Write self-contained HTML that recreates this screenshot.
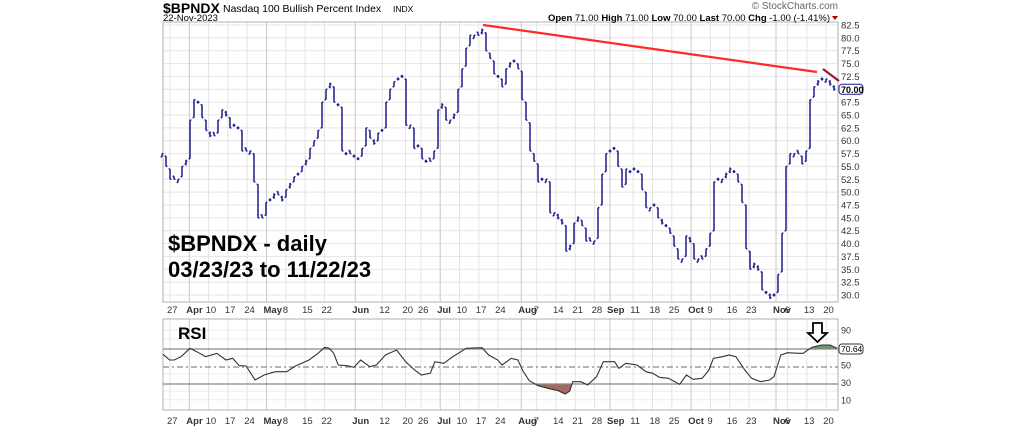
<!DOCTYPE html>
<html><head><meta charset="utf-8">
<style>
html,body{margin:0;padding:0;background:#fff;}
svg{display:block;font-family:"Liberation Sans",Arial,sans-serif;}
</style></head>
<body>
<svg id="s" width="1023" height="428" viewBox="0 0 1023 428" xmlns="http://www.w3.org/2000/svg">
<defs>
<clipPath id="above"><rect x="163" y="319" width="675" height="30"/></clipPath>
<clipPath id="below"><rect x="163" y="384" width="675" height="26"/></clipPath>
</defs>
<rect width="1023" height="428" fill="#fff"/>
<g id="grid"></g>
<rect x="163" y="22" width="675" height="280" fill="none" stroke="#b0b0b0" stroke-width="1"/>
<rect x="163" y="319" width="675" height="91" fill="none" stroke="#b0b0b0" stroke-width="1"/>
<text x="163" y="13" font-size="14" font-weight="bold">$BPNDX</text>
<text x="223" y="12" font-size="10.5">Nasdaq 100 Bullish Percent Index</text>
<text x="393" y="12" font-size="8.5">INDX</text>
<text x="163" y="21" font-size="9.5">22-Nov-2023</text>
<text x="838" y="9" font-size="10" text-anchor="end" fill="#666">© StockCharts.com</text>
<text x="830" y="21" font-size="9.5" text-anchor="end"><tspan font-weight="bold">Open</tspan> 71.00 <tspan font-weight="bold">High</tspan> 71.00 <tspan font-weight="bold">Low</tspan> 70.00 <tspan font-weight="bold">Last</tspan> 70.00 <tspan font-weight="bold">Chg</tspan> -1.00 (-1.41%)</text>
<path d="M832,16 l6,0 l-3,4z" fill="#a00"/>
<g id="bars" stroke="#1c1c8c" stroke-width="1.5" fill="none"></g>
<line x1="483" y1="25" x2="817" y2="72" stroke="#ff2a2a" stroke-width="2.2"/>
<line x1="823" y1="69" x2="839" y2="81" stroke="#a01828" stroke-width="2.2"/>
<g id="rsi"></g>
<text x="168" y="251" font-size="22" font-weight="bold">$BPNDX - daily</text>
<text x="168" y="277" font-size="22" font-weight="bold">03/23/23 to 11/22/23</text>
<text x="178" y="339" font-size="17" font-weight="bold">RSI</text>
<path d="M813,323 h9 v10 h5 l-9.5,9 l-9.5,-9 h5z" fill="#fff" stroke="#000" stroke-width="1.8"/>
</svg>
<script>
var NS="http://www.w3.org/2000/svg";
function el(p,t,a,txt){var e=document.createElementNS(NS,t);for(var k in a)e.setAttribute(k,a[k]);if(txt!==undefined)e.textContent=txt;p.appendChild(e);return e;}
var g=document.getElementById('grid');
function Y(v){return 25+(82.5-v)*5.143;}
for(var v=30;v<=82.5;v+=2.5){var y=Y(v);el(g,'line',{x1:163,x2:838,y1:y,y2:y,stroke:'#e4e4e4','stroke-width':1});
el(g,'text',{x:841,y:y+3.5,'font-size':9.5,fill:'#333'},v.toFixed(1));}
function RY(r){return 410-r*0.87-1.5;}
[10,20,40,60,80,90].forEach(function(r){var y=RY(r);el(g,'line',{x1:163,x2:838,y1:y,y2:y,stroke:'#ececec'});});
[[90,'90'],[50,'50'],[30,'30'],[10,'10']].forEach(function(a){el(g,'text',{x:841,y:RY(a[0])+3.5,'font-size':9,fill:'#333'},a[1]);});
var labs=[[0,0,'27',0],[1,0,'Apr',1],[2,0,'10',0],[3,0,'17',0],[4,0,'24',0],[5,0,'May',1],[6,0,'8',0],[7,0,'15',0],[8,0,'22',0],[9,3,'Jun',1],[11,0,'12',0],[12,1,'20',0],[13,0,'26',0],[14,0,'Jul',1],[15,0,'10',0],[16,0,'17',0],[17,0,'24',0],[18,1,'Aug',1],[19,0,'7',0],[20,0,'14',0],[21,0,'21',0],[22,0,'28',0],[22,4,'Sep',1],[24,0,'11',0],[25,0,'18',0],[26,0,'25',0],[27,0,'Oct',1],[28,0,'9',0],[29,0,'16',0],[30,0,'23',0],[31,2,'Nov',1],[32,0,'6',0],[33,0,'13',0],[34,0,'20',0]];
labs.forEach(function(l){var x=170+l[0]*19.3+l[1]*3.86;
el(g,'line',{x1:x,x2:x,y1:22,y2:302,stroke:l[3]?'#c8c8c8':'#e4e4e4'});
el(g,'line',{x1:x,x2:x,y1:319,y2:410,stroke:l[3]?'#c8c8c8':'#e4e4e4'});
[313,424].forEach(function(yy){el(g,'text',{x:x-3,y:yy,'font-size':9.5,'font-weight':l[3]?'bold':'normal',fill:'#333'},l[2]);});});
var c=[57.5,55,52.5,52.5,52.5,55,56,64,68,67.5,64.5,62,61,61,64,66,65,62.5,63,62.5,58,58,58,52,45,45,48,48.5,49.5,49.5,48.5,50.5,51.5,53,53.5,55,56,58.5,60,62,67.5,70,71,67.5,67,58,57.5,57.5,57,56.5,58.5,62.5,60.5,59.5,61.5,62,67.5,70,71.5,72,72.5,63,63,58.5,59,56.5,56,56,58,66,67,64,64,65,70,74,78,80.5,80.5,80.5,81.5,77.5,76,73,72.5,70.5,74,75,75.5,74,68,64,58,56,52,52.5,52.5,46,46,45,44,38.5,39.5,44,45,43.5,40.5,40.5,40.5,47,53.5,57.5,58,58.5,55,51,54.5,54,54.5,54,50.5,47,47,47.5,45,44,43.5,42,39.5,37,37,41.5,40.5,37,37,37,39,42,52,52.5,52.5,53.5,54.5,54,52,48,39,35,36,35,31,30.5,29.5,30,34,42,55,57.5,57.5,57.5,55.5,58,68,70.5,71.5,72,72,71,70];
var b=document.getElementById('bars'),d='';
for(var i=0;i<c.length;i++){var x=162+i*4,cl=c[i],pc=i?c[i-1]:c[i];
var o=pc+(cl>pc?0.5:(cl<pc?-0.5:0.5));
if(Math.abs(cl-pc)<0.01){o=cl+(i%2?0.6:-0.6);}
var hi=Math.max(o,cl),lo=Math.min(o,cl);var y1=Y(hi),y2=Y(lo);if(y2-y1<3){y1-=1.5;y2+=1.5;}
d+='M'+x+','+y1.toFixed(1)+'V'+y2.toFixed(1)+'M'+(x-1.4)+','+Y(o).toFixed(1)+'h1.4M'+x+','+Y(cl).toFixed(1)+'h1.4';}
el(b,'path',{d:d});
var S=document.getElementById('s');
el(S,'rect',{x:839,y:Y(70)-5,width:24,height:10,rx:3,fill:'#fff',stroke:'#1c1c8c'});
el(S,'text',{x:841,y:Y(70)+3.5,'font-size':9,'font-weight':'bold'},'70.00');
var r=document.getElementById('rsi');
var pts=[[35,193],[50,210],[60,210],[75,200],[95,175],[110,185],[130,200],[155,190],[175,210],[190,205],[205,227],[220,228],[240,270],[260,255],[285,245],[310,245],[330,228],[360,210],[380,190],[395,172],[405,175],[415,190],[425,225],[445,227],[460,232],[475,210],[495,230],[510,225],[530,195],[555,180],[575,215],[595,240],[610,255],[630,250],[640,215],[660,220],[680,200],[710,175],[745,173],[760,195],[780,210],[790,225],[810,205],[825,210],[835,240],[850,272],[870,287],[895,296],[915,302],[930,312],[940,304],[947,275],[965,275],[980,285],[1000,260],[1015,215],[1040,215],[1050,235],[1065,220],[1090,225],[1110,245],[1125,250],[1140,262],[1160,265],[1185,283],[1200,255],[1215,268],[1235,265],[1250,240],[1260,205],[1280,200],[1295,195],[1310,200],[1330,240],[1345,265],[1365,275],[1385,270],[1395,260],[1410,195],[1425,188],[1450,190],[1460,190],[1470,180],[1480,172],[1500,165],[1520,165],[1535,175]];
var P=pts.map(function(p){return [163+(p[0]-35)*0.4493,290+p[1]/3];});
var ps=P.map(function(p){return p[0].toFixed(1)+','+p[1].toFixed(1);}).join(' ');
var x0=P[0][0].toFixed(1),x1=P[P.length-1][0].toFixed(1);
el(r,'polygon',{points:x0+',349 '+ps+' '+x1+',349',fill:'#6a9a6a','clip-path':'url(#above)'});
el(r,'polygon',{points:x0+',384 '+ps+' '+x1+',384',fill:'#a86a60','clip-path':'url(#below)'});
[[349,'none'],[384,'none'],[367,'6,3,2,3']].forEach(function(a){
el(r,'line',{x1:163,x2:838,y1:a[0],y2:a[0],stroke:'#888','stroke-width':1.2,'stroke-dasharray':a[1]});});
el(r,'polyline',{points:ps,fill:'none',stroke:'#333','stroke-width':1.1});
el(r,'rect',{x:839,y:344,width:24,height:10,rx:3,fill:'#fff',stroke:'#333'});
el(r,'text',{x:841,y:352,'font-size':8.5},'70.64');
</script>
</body></html>
